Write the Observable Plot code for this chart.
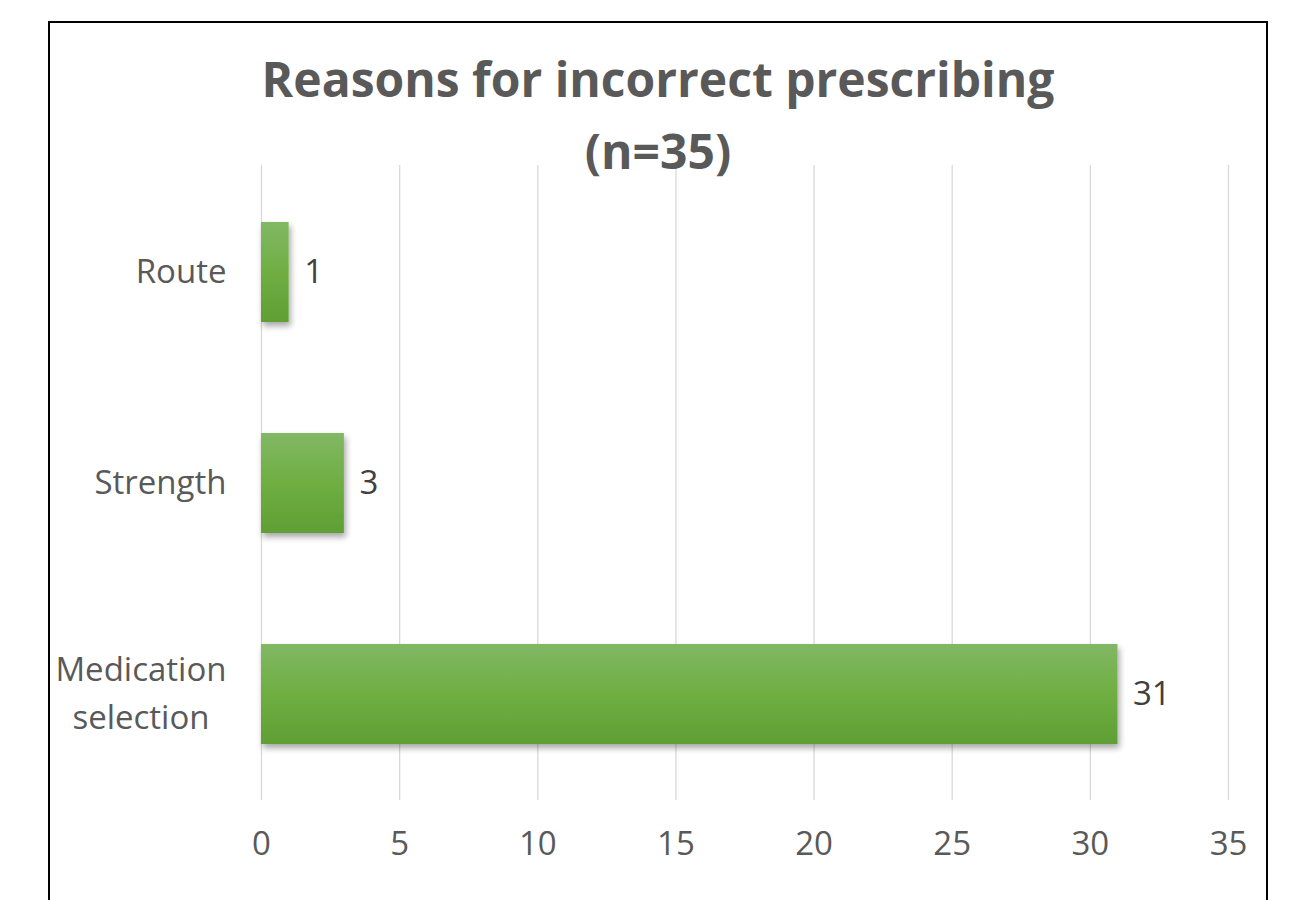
<!DOCTYPE html>
<html>
<head>
<meta charset="utf-8">
<script src="https://cdn.jsdelivr.net/npm/d3@7"></script>
<script src="https://cdn.jsdelivr.net/npm/@observablehq/plot@0.6"></script>
<style>
  html, body { margin: 0; padding: 0; width: 1306px; height: 900px; overflow: hidden; background: #fff; }
  #chart { position: absolute; left: 0; top: 0; }
  #frame { position: absolute; left: 48px; top: 21px; width: 1220px; height: 1000px; box-sizing: border-box; border: 2px solid #000; pointer-events: none; }
  #title { position: absolute; left: 0; top: 43px; width: 1316px; text-align: center; font-family: 'Open Sans', sans-serif; font-weight: 700; font-size: 48px; line-height: 72px; color: #595959; }
</style>
</head>
<body>
<div id="chart"></div>
<div id="frame"></div>
<div id="title">Reasons for incorrect prescribing<br>(n=35)</div>
<script>
const categories = ["Route", "Strength", "Medication selection"];
const tickLabels = ["Route", "Strength", "Medication\nselection"];
const values = [1, 3, 31];
const xTicks = [0, 5, 10, 15, 20, 25, 30, 35];

const data = categories.map((c, i) => ({category: c, value: values[i]}));

const svg = Plot.plot({
  width: 1306,
  height: 900,
  marginLeft: 261,
  marginRight: 78,
  marginTop: 165,
  marginBottom: 100,
  style: {fontFamily: "'Open Sans', sans-serif", fontSize: "33px", color: "#595959", background: "transparent"},
  x: {domain: [0, 35], ticks: xTicks, label: null},
  y: {domain: categories, paddingInner: 0.528, paddingOuter: 0.264, label: null},
  marks: [
    Plot.ruleX(xTicks, {stroke: "#d9d9d9", strokeWidth: 1.3}),
    Plot.barX(data, {x: "value", y: "category", fill: "url(#barGrad)"}),
    Plot.text(data, {x: "value", y: "category", text: d => String(d.value), dx: 15, textAnchor: "start", fill: "#404040", fontSize: 33}),
    Plot.axisX({ticks: xTicks, tickSize: 0, tickPadding: 31, fontSize: 33, label: null}),
    Plot.axisY({tickSize: 0, tickPadding: 35, dy: -5, fontSize: 33, lineHeight: 1.45, label: null,
      tickFormat: d => tickLabels[categories.indexOf(d)]})
  ]
});

const s = d3.select(svg);
const defs = s.insert("defs", ":first-child");
const grad = defs.append("linearGradient").attr("id", "barGrad").attr("x1", 0).attr("y1", 0).attr("x2", 0).attr("y2", 1);
grad.append("stop").attr("offset", "0%").attr("stop-color", "#81b864");
grad.append("stop").attr("offset", "50%").attr("stop-color", "#6fae42");
grad.append("stop").attr("offset", "100%").attr("stop-color", "#5f9f34");
const filt = defs.append("filter").attr("id", "shadow").attr("x", "-10%").attr("y", "-10%").attr("width", "130%").attr("height", "140%");
filt.append("feDropShadow").attr("dx", 2).attr("dy", 4).attr("stdDeviation", 3).attr("flood-color", "#000").attr("flood-opacity", 0.35);
s.selectAll('g[aria-label="bar"]').attr("filter", "url(#shadow)");

document.getElementById("chart").appendChild(svg);

// center multi-line category labels within their block (Excel style)
s.selectAll('g[aria-label="y-axis tick label"] text').each(function() {
  const tspans = this.querySelectorAll("tspan");
  if (tspans.length > 1) {
    const bb = this.getBBox();
    this.setAttribute("text-anchor", "middle");
    tspans.forEach(t => t.setAttribute("x", bb.x + bb.width / 2));
  }
});
</script>
</body>
</html>
